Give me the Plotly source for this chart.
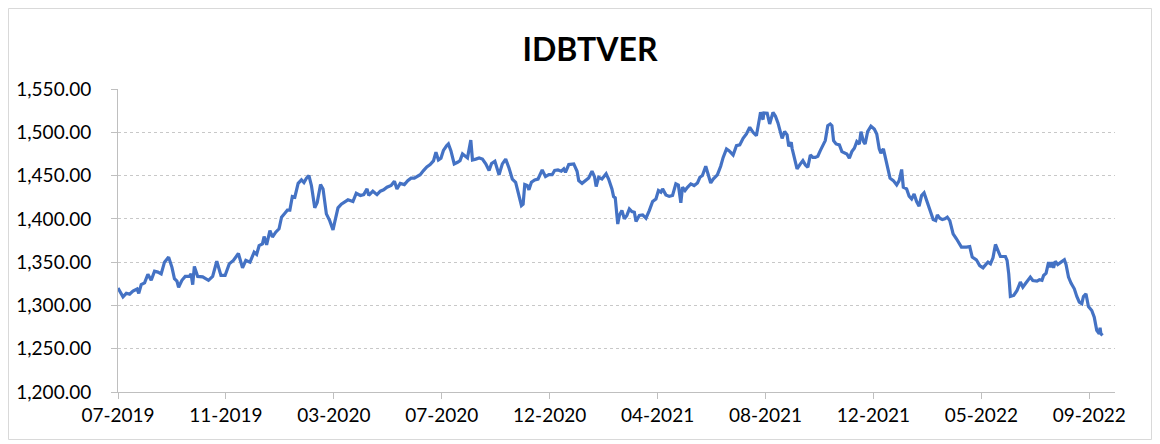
import pandas as pd
import plotly.graph_objects as go

TITLE = "IDBTVER"
START_DATE = "2019-07-01"
AXIS_END_DAY = 1201
TICK_STEP_DAYS = 130

# day offsets from START_DATE and index values
DAY_OFFSETS = [
    0, 6, 10, 14, 18, 23, 25, 28, 32, 36, 40, 44, 48, 52, 56, 61, 65, 68, 71, 73,
    77, 81, 86, 88, 90, 92, 96, 102, 109, 114, 119, 124, 129, 134, 139, 145, 150, 154, 159, 164,
    167, 170, 174, 176, 179, 183, 186, 190, 194, 197, 201, 204, 207, 210, 213, 217, 221, 224, 227, 230,
    233, 237, 240, 244, 247, 251, 255, 259, 261, 265, 269, 273, 277, 283, 287, 292, 296, 300, 302, 307,
    312, 316, 320, 324, 329, 333, 336, 340, 345, 349, 353, 357, 361, 364, 368, 372, 376, 380, 383, 386,
    389, 392, 396, 398, 401, 405, 409, 412, 415, 418, 421, 425, 427, 431, 435, 439, 443, 447, 450, 454,
    459, 463, 467, 471, 475, 479, 482, 486, 488, 490, 493, 495, 498, 502, 506, 508, 511, 515, 519, 523,
    526, 530, 534, 537, 539, 543, 549, 553, 555, 559, 563, 567, 571, 574, 576, 579, 583, 588, 591, 595,
    597, 599, 602, 604, 607, 610, 613, 616, 619, 622, 624, 628, 632, 636, 640, 644, 648, 651, 654, 656,
    660, 664, 668, 672, 675, 678, 680, 683, 686, 690, 694, 698, 701, 704, 708, 711, 714, 717, 722, 726,
    729, 733, 736, 741, 745, 749, 753, 757, 761, 765, 769, 773, 774, 777, 778, 782, 785, 789, 792, 795,
    798, 800, 803, 806, 808, 811, 812, 815, 818, 822, 825, 828, 831, 834, 837, 840, 843, 846, 849, 852,
    855, 858, 860, 862, 865, 869, 872, 875, 878, 881, 884, 887, 890, 893, 895, 898, 900, 903, 907, 911,
    914, 917, 919, 922, 925, 927, 930, 934, 938, 941, 944, 946, 950, 953, 956, 959, 962, 965, 968, 971,
    974, 977, 979, 982, 985, 987, 990, 993, 996, 999, 1002, 1006, 1010, 1012, 1016, 1022, 1026, 1029, 1034, 1038,
    1042, 1046, 1048, 1051, 1054, 1057, 1060, 1063, 1069, 1071, 1073, 1075, 1079, 1083, 1087, 1090, 1093, 1096, 1099, 1102,
    1107, 1110, 1113, 1115, 1118, 1121, 1123, 1125, 1127, 1129, 1132, 1136, 1140, 1142, 1145, 1148, 1152, 1155, 1158, 1161,
    1163, 1166, 1169, 1173, 1176, 1179, 1182, 1183, 1184, 1186,
]

VALUES = [
    1320, 1310, 1314, 1313, 1316.5, 1319, 1314, 1324, 1326, 1336, 1329, 1339.6, 1338.5, 1336.5, 1350, 1355.8, 1344, 1330.8, 1328, 1321,
    1329, 1333.5, 1333.5, 1336.5, 1324, 1345, 1333.5, 1333, 1329, 1333.5, 1351, 1334.6, 1334.6, 1348, 1352, 1360, 1343.5, 1352, 1350, 1361.5,
    1359, 1369, 1371, 1379.6, 1370, 1386.5, 1379, 1384.6, 1388.5, 1402, 1406.5, 1410, 1410, 1425.8, 1425, 1441, 1445, 1442, 1447, 1450,
    1438.5, 1412.7, 1419, 1439.6, 1434.6, 1405.8, 1398, 1387.3, 1396, 1412.7, 1417, 1419, 1422, 1420, 1429.6, 1427, 1428, 1434.6, 1427, 1432,
    1428, 1432, 1433.5, 1436.5, 1438.5, 1443.5, 1434.6, 1441, 1439.6, 1444, 1447, 1447, 1449, 1451, 1455.8, 1460, 1462.7, 1467, 1477, 1468,
    1470, 1479, 1484.6, 1486.5, 1478.8, 1463.5, 1465.4, 1467.3, 1475, 1473, 1470.4, 1491, 1468, 1469, 1470.4, 1469, 1463.5, 1455.8, 1464, 1466.5,
    1451, 1463.5, 1469, 1458.8, 1446, 1442.3, 1430.8, 1415.4, 1417, 1439.6, 1438.5, 1433.5, 1442.3, 1445, 1446, 1450, 1456.5, 1448.8, 1451, 1451,
    1455.8, 1456.5, 1455, 1457.7, 1453.8, 1462.7, 1463.5, 1455, 1444.2, 1441, 1444.2, 1447.3, 1455, 1448.8, 1437.3, 1448, 1446, 1452, 1446, 1434.6,
    1425.8, 1424.2, 1394, 1404, 1409.6, 1400, 1404, 1411.5, 1408.5, 1407.7, 1397, 1404, 1404.6, 1400.8, 1409.6, 1420, 1423, 1432.7, 1430.8, 1434.6,
    1427.7, 1426, 1427, 1440.4, 1439, 1418.5, 1436.5, 1432.7, 1436.5, 1440.4, 1438.5, 1441.5, 1448, 1450, 1460.8, 1452, 1441.5, 1446, 1450.8, 1460.8,
    1471, 1480.8, 1478.8, 1473.8, 1484.6, 1485.4, 1493, 1498, 1505.8, 1500, 1496, 1517.3, 1523, 1514.6, 1522.3, 1522, 1509.6, 1523, 1518.5, 1510.8,
    1500, 1493, 1500.8, 1497, 1483.8, 1488.5, 1481.5, 1467.3, 1457.7, 1463.5, 1467.3, 1462.3, 1459.6, 1473.8, 1471, 1471, 1472.3, 1478.8, 1485.4, 1490.4,
    1507.7, 1509.6, 1507.7, 1490.4, 1486.5, 1485.4, 1477.7, 1476, 1475, 1470, 1477.7, 1481.5, 1489.2, 1486.5, 1500.8, 1489.2, 1486.5, 1500.8, 1507, 1503.8,
    1498, 1480.8, 1476, 1480.8, 1467.3, 1457, 1447, 1444.2, 1439.2, 1444.2, 1457, 1436.5, 1434.6, 1426.2, 1423, 1428.8, 1420, 1414.6, 1426.9, 1430,
    1421.2, 1411.5, 1408.5, 1399.2, 1398, 1404.6, 1400.8, 1399.2, 1400, 1402, 1398, 1382.7, 1377, 1374, 1367.3, 1367.3, 1368, 1355.8, 1352.7, 1346,
    1343.5, 1348, 1350, 1348, 1355, 1370.4, 1362.7, 1356.5, 1356.5, 1352, 1336.5, 1310.4, 1311.5, 1317.3, 1327, 1321, 1325, 1329.6, 1332.7, 1328.8,
    1328, 1329.6, 1329, 1334.6, 1337.3, 1350, 1344.2, 1350, 1343.5, 1351, 1347.3, 1350, 1352.7, 1347.3, 1332.7, 1325.8, 1319.2, 1310.4, 1303.8, 1302,
    1310.4, 1313.5, 1298.8, 1294.2, 1286.5, 1271.2, 1267.3, 1274.2, 1267.3, 1265.4,
]

Y_MIN, Y_MAX, Y_STEP = 1200, 1550, 50

start = pd.Timestamp(START_DATE)
dates = [start + pd.Timedelta(days=d) for d in DAY_OFFSETS]
x_end = start + pd.Timedelta(days=AXIS_END_DAY)

FONT = "Lato, Carlito, Calibri, sans-serif"

fig = go.Figure()
fig.add_trace(go.Scatter(
    x=dates, y=VALUES, mode="lines",
    line=dict(color="#4472C4", width=3.2),
    hoverinfo="x+y", showlegend=False,
))

# page has an 8px body margin, so the figure is 1152x436 (page offset 8,8)
W, H = 1152, 436
L, R, T, B = 110, 45, 81, 52

fig.update_layout(
    width=W, height=H,
    margin=dict(l=L, r=R, t=T, b=B, pad=0),
    paper_bgcolor="white", plot_bgcolor="white",
    font=dict(family=FONT, size=19, color="#404040"),
    title=dict(text="<b>" + TITLE + "</b>", xref="container", x=(590 - 8) / W, xanchor="center",
               yref="container", y=1 - 42 / H, yanchor="middle",
               font=dict(family=FONT, size=32, color="#000000")),
    xaxis=dict(
        type="date", range=[start, x_end],
        tick0=START_DATE, dtick=TICK_STEP_DAYS * 86400000, tickformat="%m-%Y",
        showgrid=False, showline=True, linecolor="#BFBFBF", linewidth=1,
        ticks="outside", ticklen=6, tickcolor="#BFBFBF",
        tickfont=dict(family=FONT, size=19, color="#000000"),
        zeroline=False, fixedrange=True, automargin=False,
    ),
    yaxis=dict(
        range=[Y_MIN, Y_MAX], tick0=Y_MIN, dtick=Y_STEP, tickformat=",.2f",
        showgrid=True, gridcolor="#C8C8C8", gridwidth=1, griddash="dot",
        showline=True, linecolor="#BFBFBF", linewidth=1,
        ticks="outside", ticklen=6, tickcolor="#BFBFBF",
        ticklabelstandoff=16,
        tickfont=dict(family=FONT, size=19, color="#000000"),
        zeroline=False, fixedrange=True, automargin=False,
    ),
)

# chart-area border (figure pixels converted to paper fractions)
pw, ph = W - L - R, H - T - B
fig.add_shape(type="rect", xref="paper", yref="paper",
              x0=(0.5 - L) / pw, x1=(W - 8.5 - L) / pw,
              y0=(H - B - (H - 4.5)) / ph, y1=(H - B - 0.5) / ph,
              line=dict(color="#D9D9D9", width=1), fillcolor="rgba(0,0,0,0)", layer="below")

fig.write_html("out.html")
